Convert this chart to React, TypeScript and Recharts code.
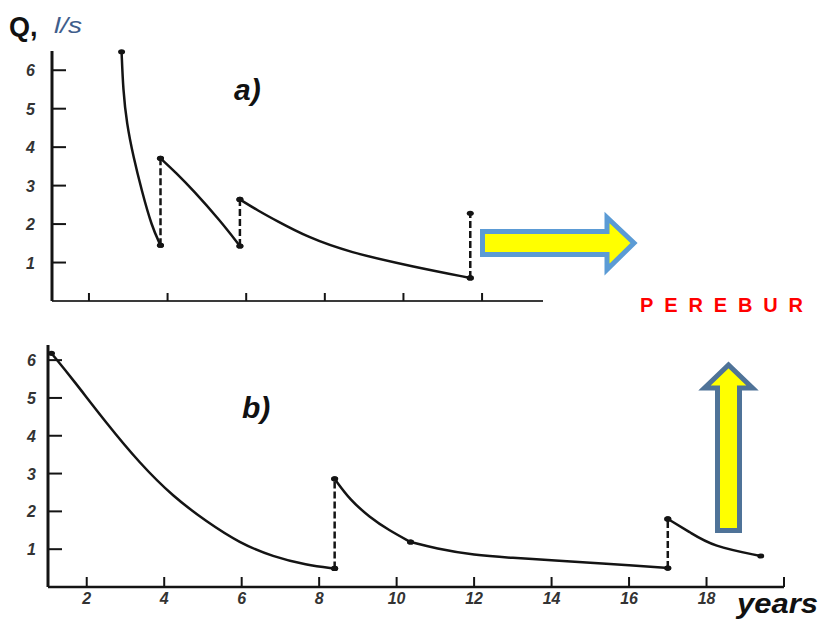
import { ComposedChart, Line, XAxis, YAxis } from "recharts";

// a) years / Q (l/s)
const A1_T = [2.83, 2.87, 2.96, 3.13, 3.34, 3.6, 3.82];
const A1_Q = [6.48, 5.48, 4.62, 3.75, 2.88, 1.93, 1.45];
const A2_T = [3.82, 4.23, 4.65, 5.33, 5.84];
const A2_Q = [3.71, 3.32, 2.88, 2.1, 1.43];
const A3_T = [5.84, 6.3, 6.78, 7.54, 8.6, 10.3, 11.7];
const A3_Q = [2.64, 2.35, 2.08, 1.67, 1.27, 0.88, 0.6];
const A_JUMP_T = [3.82, 5.84, 11.7];
const A_JUMP_FROM = [1.45, 1.43, 0.6];
const A_JUMP_TO = [3.71, 2.64, 2.28];

// b)
const B1_T = [1.09, 1.65, 2.51, 3.37, 4.23, 5.09, 5.95, 6.81, 7.67, 8.4];
const B1_Q = [6.18, 5.48, 4.33, 3.27, 2.39, 1.73, 1.16, 0.8, 0.58, 0.49];
const B2_T = [8.4, 8.8, 9.3, 9.8, 10.36];
const B2_Q = [2.86, 2.3, 1.85, 1.5, 1.19];
const B3_T = [10.36, 11, 12, 13, 14, 15, 16, 17];
const B3_Q = [1.19, 1.02, 0.84, 0.77, 0.71, 0.64, 0.58, 0.5];
const B4_T = [17, 17.6, 18.15, 19.4];
const B4_Q = [1.8, 1.43, 1.08, 0.82];
const B_JUMP_T = [8.4, 17];
const B_JUMP_FROM = [0.49, 0.5];
const B_JUMP_TO = [2.86, 1.8];

const Q_TICKS = [1, 2, 3, 4, 5, 6];
const A_YEAR_TICKS = [2, 4, 6, 8, 10, 12];
const B_YEAR_TICKS = [2, 4, 6, 8, 10, 12, 14, 16, 18, 20];

const zip = (t: number[], q: number[]) => t.map((v, i) => ({ t: v, q: q[i] }));
const jumps = (t: number[], from: number[], to: number[]) =>
  t.map((v, i) => [
    { t: v, q: from[i] },
    { t: v, q: to[i] },
  ]);

const INK = "#141414";
const FONT = "'Liberation Sans', Arial, sans-serif";

const TickLabel = ({ x, y, anchor, children }: any) => (
  <text
    x={x}
    y={y}
    textAnchor={anchor}
    fontFamily={FONT}
    fontStyle="italic"
    fontWeight={700}
    fontSize={16}
    fill="#333"
  >
    {children}
  </text>
);

const yTick = (gap: number, len: number) => (props: any) => {
  const { x, y, payload } = props;
  return (
    <g>
      <line x1={x + gap} y1={y} x2={x + gap + len} y2={y} stroke={INK} strokeWidth={2} />
      <TickLabel x={x} y={y + 6} anchor="end">
        {payload.value}
      </TickLabel>
    </g>
  );
};

const xTick = (gap: number, len: number, showLabel: boolean, hide: number[] = []) => (props: any) => {
  const { x, y, payload } = props;
  return (
    <g>
      <line x1={x} y1={y - gap} x2={x} y2={y - gap - len} stroke={INK} strokeWidth={2} />
      {showLabel && !hide.includes(payload.value) && (
        <TickLabel x={x} y={y + 11} anchor="middle">
          {payload.value}
        </TickLabel>
      )}
    </g>
  );
};

const endDot = (n: number) => (p: any) =>
  p.index === 0 || p.index === n - 1 ? (
    <ellipse key={`d${p.index}`} cx={p.cx} cy={p.cy} rx={3.5} ry={2.6} fill={INK} />
  ) : (
    <g key={`d${p.index}`} />
  );

function renderLines(segments: { t: number; q: number }[][], steps: { t: number; q: number }[][], prefix: string) {
  return [
    ...segments.map((d, i) => (
      <Line
        key={`${prefix}s${i}`}
        data={d}
        dataKey="q"
        type="basis"
        stroke={INK}
        strokeWidth={2.5}
        dot={endDot(d.length)}
        activeDot={false}
        isAnimationActive={false}
      />
    )),
    ...steps.map((d, i) => (
      <Line
        key={`${prefix}j${i}`}
        data={d}
        dataKey="q"
        type="linear"
        stroke={INK}
        strokeWidth={2.5}
        strokeDasharray="7 3"
        dot={endDot(d.length)}
        activeDot={false}
        isAnimationActive={false}
      />
    )),
  ];
}

const aSegments = [zip(A1_T, A1_Q), zip(A2_T, A2_Q), zip(A3_T, A3_Q)];
const aSteps = jumps(A_JUMP_T, A_JUMP_FROM, A_JUMP_TO);
const bSegments = [zip(B1_T, B1_Q), zip(B2_T, B2_Q), zip(B3_T, B3_Q), zip(B4_T, B4_Q)];
const bSteps = jumps(B_JUMP_T, B_JUMP_FROM, B_JUMP_TO);

export default function App() {
  return (
    <div style={{ position: "absolute", left: 0, top: 0, width: 822, height: 619, background: "#fff" }}>
      <div style={{ position: "absolute", left: 0, top: 0 }}>
        <ComposedChart width={600} height={330} margin={{ top: 51, right: 57, bottom: 9, left: 12 }}>
          <XAxis
            dataKey="t"
            type="number"
            domain={[1.06, 13.55]}
            ticks={A_YEAR_TICKS}
            interval={0}
            tickSize={0}
            tickMargin={6}
            tickLine={false}
            height={20}
            axisLine={{ stroke: "#3a3a3a", strokeWidth: 2 }}
            tick={xTick(6, 8, false)}
          />
          <YAxis
            type="number"
            domain={[0, 6.5]}
            ticks={Q_TICKS}
            interval={0}
            width={40}
            tickSize={0}
            tickMargin={17}
            tickLine={false}
            axisLine={{ stroke: INK, strokeWidth: 3 }}
            tick={yTick(17, 14)}
          />
          {renderLines(aSegments, aSteps, "a")}
        </ComposedChart>
      </div>
      <div style={{ position: "absolute", left: 0, top: 320 }}>
        <ComposedChart width={822} height={299} margin={{ top: 25, right: 38, bottom: 2, left: 8 }}>
          <XAxis
            dataKey="t"
            type="number"
            domain={[1, 20]}
            ticks={B_YEAR_TICKS}
            interval={0}
            tickSize={0}
            tickMargin={6}
            tickLine={false}
            height={30}
            axisLine={{ stroke: INK, strokeWidth: 2.5 }}
            tick={xTick(6, 10, true, [20])}
          />
          <YAxis
            type="number"
            domain={[0, 6.4]}
            ticks={Q_TICKS}
            interval={0}
            width={40}
            tickSize={0}
            tickMargin={12}
            tickLine={false}
            axisLine={{ stroke: INK, strokeWidth: 3 }}
            tick={yTick(12, 14)}
          />
          {renderLines(bSegments, bSteps, "b")}
        </ComposedChart>
      </div>
      <svg
        width={822}
        height={619}
        style={{ position: "absolute", left: 0, top: 0, pointerEvents: "none" }}
        fontFamily={FONT}
      >
        <text x={9} y={36} fontSize={27} fontWeight={700} fill="#111">
          Q,
        </text>
        <text
          x={54}
          y={33}
          fontSize={22}
          fontStyle="italic"
          fill="#3f5e8c"
          textLength={28}
          lengthAdjust="spacingAndGlyphs"
        >
          l/s
        </text>
        <text x={234} y={100} fontSize={30} fontWeight={700} fontStyle="italic" fill="#111">
          a)
        </text>
        <text x={242} y={418} fontSize={30} fontWeight={700} fontStyle="italic" fill="#111">
          b)
        </text>
        <text
          x={737}
          y={613}
          fontSize={27}
          fontWeight={700}
          fontStyle="italic"
          fill="#111"
          textLength={81}
          lengthAdjust="spacingAndGlyphs"
        >
          years
        </text>
        <text
          x={640}
          y={312}
          fontSize={20}
          fontWeight={700}
          fill="#ff0000"
          textLength={163}
          lengthAdjust="spacing"
        >
          PEREBUR
        </text>
        <polygon
          points="482.5,231.5 607,231.5 607,217.5 634,243 607,269.5 607,254.5 482.5,254.5"
          fill="#ffff00"
          stroke="#5b9bd5"
          strokeWidth={5}
          strokeLinejoin="miter"
        />
        <polygon
          points="717.5,530.5 717.5,388 704.5,388 728.5,365 752.5,388 739.5,388 739.5,530.5"
          fill="#ffff00"
          stroke="#4f7398"
          strokeWidth={5}
          strokeLinejoin="miter"
        />
      </svg>
    </div>
  );
}
